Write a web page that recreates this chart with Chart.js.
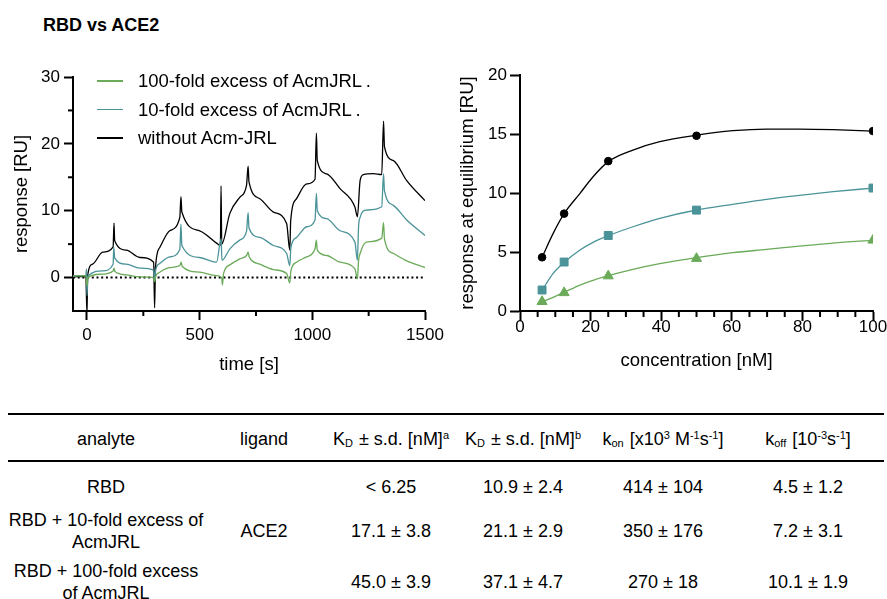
<!DOCTYPE html>
<html>
<head>
<meta charset="utf-8">
<script src="https://cdn.jsdelivr.net/npm/chart.js@4.4.1/dist/chart.umd.min.js"></script>
<style>
body { margin:0; width:887px; height:599px; overflow:hidden; background:#fff; position:relative; font-family:"Liberation Sans", Arial, sans-serif; color:#000; }
#title { position:absolute; left:43px; top:15px; font-weight:bold; font-size:18px; line-height:20px; white-space:nowrap; }
#leftBox { position:absolute; left:0; top:60px; }
#rightBox { position:absolute; left:452px; top:60px; }
.legRow { position:absolute; left:138px; font-size:18.5px; line-height:22px; white-space:nowrap; }
.legLine { position:absolute; left:97px; width:26px; height:1.6px; }
.rule { position:absolute; left:8px; width:876px; height:2px; background:#000; }
.row { position:absolute; left:8px; width:876px; display:flex; align-items:center; font-size:18px; line-height:22.5px; }
.cell { text-align:center; flex:none; }
.sb { font-size:11px; vertical-align:-2px; line-height:0; margin-right:1px; }
.sp { font-size:11px; vertical-align:6px; line-height:0; }
</style>
</head>
<body>
<div id="title">RBD vs ACE2</div>
<div id="leftBox"><canvas id="sensorgram" width="452" height="320"></canvas></div>
<div id="rightBox"><canvas id="equilibrium" width="443" height="320"></canvas></div>
<div id="legend"></div>
<div class="rule" style="top:413px"></div>
<div class="rule" style="top:460px"></div>
<div id="table"></div>

<script>
// ---------- sensorgram (left) ----------
const seriesLabels = ['100-fold excess of AcmJRL\u2009.', '10-fold excess of AcmJRL\u2009.', 'without Acm-JRL'];
const seriesColors = ['#6aaa58', '#4a9398', '#000000'];

const timeMajor = [0, 500, 1000, 1500];
const timeMinor = [250, 750, 1250];
const respMajor = [0, 10, 20, 30];
const respMinor = [5, 15, 25];

const blackTime = [-62, -5, 0, 3, 25, 70, 116, 120, 123, 175, 235, 296, 300, 304, 323, 367, 412, 417, 421, 500, 575, 592, 595, 598, 634, 678, 708, 715, 719, 767, 827, 886, 900, 904, 930, 975, 1012, 1018, 1022, 1064, 1123, 1189, 1200, 1212, 1227, 1271, 1308, 1316, 1320, 1360, 1419, 1500];
const blackResp = [0.1, 0.2, -5.5, 0.3, 2.0, 3.8, 4.6, 8.15, 5.5, 4.1, 3.0, 2.3, -4.5, 1.5, 4.5, 7.0, 9.0, 12.1, 9.8, 7.0, 5.15, 4.8, 13.7, 5.0, 9.6, 12.0, 13.8, 16.65, 14.3, 11.8, 9.8, 8.1, 4.1, 8.5, 11.8, 14.0, 14.7, 21.6, 17.5, 15.5, 13.3, 10.55, 9.1, 14.5, 15.4, 15.55, 15.4, 23.4, 19.6, 17.5, 14.5, 11.5];

const tealTime = [-62, -5, -2, 0, 4, 70, 116, 119, 123, 175, 235, 296, 300, 305, 323, 367, 412, 417, 421, 500, 575, 595, 599, 634, 678, 708, 715, 719, 767, 827, 886, 900, 905, 930, 975, 1012, 1018, 1022, 1064, 1123, 1189, 1200, 1205, 1212, 1240, 1308, 1316, 1320, 1360, 1419, 1500];
const tealResp = [0.3, 0.3, 1.3, -2.7, 0.2, 1.0, 2.0, 4.5, 2.9, 2.0, 1.4, 1.1, -0.5, 1.2, 2.1, 3.1, 4.2, 8.0, 4.8, 3.0, 2.3, 5.8, 2.6, 4.3, 5.6, 6.9, 9.7, 7.4, 6.0, 4.8, 3.6, 1.8, 4.5, 6.0, 7.6, 8.6, 12.6, 10.0, 8.8, 7.0, 5.3, 2.6, 7.5, 9.0, 10.1, 10.6, 15.5, 13.0, 10.8, 8.6, 6.3];

const greenTime = [-62, -5, 0, 5, 60, 116, 120, 124, 175, 235, 296, 300, 305, 323, 367, 412, 418, 422, 500, 575, 598, 601, 606, 634, 678, 708, 715, 720, 767, 827, 886, 900, 905, 930, 975, 1012, 1018, 1022, 1064, 1123, 1189, 1200, 1205, 1212, 1240, 1308, 1316, 1320, 1360, 1419, 1500];
const greenResp = [0.2, 0.3, -1.2, 0.0, 0.5, 1.0, 1.4, 0.9, 0.4, 0.1, 0.0, -0.6, 0.2, 0.8, 1.5, 1.8, 2.3, 1.7, 0.8, 0.3, 0.0, -1.1, 0.6, 1.9, 2.8, 3.3, 3.8, 3.1, 2.0, 1.2, 0.6, -0.8, 1.0, 2.3, 3.1, 4.3, 5.6, 4.1, 3.3, 2.3, 1.3, -0.2, 2.5, 3.6, 5.3, 5.9, 8.2, 5.8, 3.6, 2.5, 1.5];

const zeroTime = [-62, 1500];
const zeroResp = [0, 0];

// ---------- equilibrium (right) ----------
const concMajor = [0, 20, 40, 60, 80, 100];
const concMinor = [5, 10, 15, 25, 30, 35, 45, 50, 55, 65, 70, 75, 85, 90, 95];
const eqTicks = [0, 5, 10, 15, 20];

const concPoints = [6.25, 12.5, 25, 50, 100];
const eqBlack = [4.55, 8.25, 12.7, 14.85, 15.25];
const eqTeal = [1.78, 4.15, 6.4, 8.55, 10.42];
const eqGreen = [0.8, 1.55, 2.97, 4.45, 6.0];

const fitConc = [6.25, 9.4, 12.5, 17, 20.7, 25, 32, 39.6, 50, 60.3, 69.8, 79.2, 88.7, 100];
const fitBlack = [4.55, 6.58, 8.25, 9.97, 11.38, 12.66, 13.64, 14.35, 14.9, 15.28, 15.42, 15.42, 15.37, 15.25];
const fitTeal = [1.75, 3.19, 4.12, 5.17, 5.82, 6.38, 7.14, 7.85, 8.56, 9.04, 9.46, 9.8, 10.11, 10.42];
const fitGreen = [0.76, 1.16, 1.58, 2.2, 2.6, 2.99, 3.53, 4.01, 4.52, 4.94, 5.22, 5.5, 5.76, 5.99];

// ---------- table ----------
const tableWidths = [196, 120, 134, 130, 150, 146];
const tableHeader = ['analyte', 'ligand',
    'K<span class="sb">D</span> ± s.d. [nM]<span class="sp">a</span>',
    'K<span class="sb">D</span> ± s.d. [nM]<span class="sp">b</span>',
    'k<span class="sb">on</span> [x10<span class="sp">3</span> M<span class="sp">-1</span>s<span class="sp">-1</span>]',
    'k<span class="sb">off</span> [10<span class="sp">-3</span>s<span class="sp">-1</span>]'];
const tableAnalytes = ['RBD', 'RBD + 10-fold excess of<br>AcmJRL', 'RBD + 100-fold excess<br>of AcmJRL'];
const tableLigands = ['', 'ACE2', ''];
const kdA = ['&lt; 6.25', '17.1 ± 3.8', '45.0 ± 3.9'];
const kdB = ['10.9 ± 2.4', '21.1 ± 2.9', '37.1 ± 4.7'];
const kOn = ['414 ± 104', '350 ± 176', '270 ± 18'];
const kOff = ['4.5 ± 1.2', '7.2 ± 3.1', '10.1 ± 1.9'];


Chart.defaults.font.family = '"Liberation Sans", Arial, sans-serif';
Chart.defaults.color = '#000';
Chart.defaults.animation = false;

function pairs(xs, ys) {
    return xs.map((x, i) => ({ x: x, y: ys[i] }));
}

// short ticks between the labelled ones
const minorTicks = {
    id: 'minorTicks',
    afterDraw(chart, args, opts) {
        const ctx = chart.ctx;
        const area = chart.chartArea;
        ctx.save();
        ctx.strokeStyle = '#000';
        ctx.lineWidth = 2;
        (opts.x || []).forEach(v => {
            const px = chart.scales.x.getPixelForValue(v);
            ctx.beginPath();
            ctx.moveTo(px, area.bottom);
            ctx.lineTo(px, area.bottom + opts.length);
            ctx.stroke();
        });
        (opts.y || []).forEach(v => {
            const py = chart.scales.y.getPixelForValue(v);
            ctx.beginPath();
            ctx.moveTo(area.left, py);
            ctx.lineTo(area.left - opts.length, py);
            ctx.stroke();
        });
        ctx.restore();
    }
};

function axis(min, max, ticks, tickLen, pad, fit, title, titlePad) {
    return {
        type: 'linear',
        min: min,
        max: max,
        afterBuildTicks: s => { s.ticks = ticks.map(v => ({ value: v })); },
        afterFit: fit,
        grid: { drawOnChartArea: false, tickLength: tickLen, tickWidth: 2, tickColor: '#000' },
        border: { color: '#000', width: 2 },
        ticks: { font: { size: 17 }, padding: pad, maxRotation: 0, autoSkip: false, callback: v => String(v) },
        title: { display: true, text: title, font: { size: 18.5 }, padding: titlePad }
    };
}

new Chart(document.getElementById('sensorgram'), {
    type: 'line',
    data: {
        datasets: [
            { label: seriesLabels[0], data: pairs(greenTime, greenResp), borderColor: seriesColors[0], borderWidth: 1.3, pointRadius: 0, cubicInterpolationMode: 'monotone' },
            { label: seriesLabels[1], data: pairs(tealTime, tealResp), borderColor: seriesColors[1], borderWidth: 1.3, pointRadius: 0, cubicInterpolationMode: 'monotone' },
            { label: seriesLabels[2], data: pairs(blackTime, blackResp), borderColor: seriesColors[2], borderWidth: 1.3, pointRadius: 0, cubicInterpolationMode: 'monotone' },
            { label: 'baseline', data: pairs(zeroTime, zeroResp), borderColor: '#000', borderWidth: 2, borderDash: [2, 2.7], pointRadius: 0 }
        ]
    },
    options: {
        responsive: false,
        layout: { padding: { top: 17, right: 27, bottom: 0, left: 0 } },
        plugins: {
            legend: { display: false },
            tooltip: { enabled: false },
            minorTicks: { x: timeMinor, y: respMinor, length: 5 }
        },
        scales: {
            x: axis(-62, 1500, timeMajor, 9, 5, s => { s.height = 69; }, 'time [s]', { top: 0, bottom: 4 }),
            y: axis(-5, 30, respMajor, 9, 4, s => { s.width = 73; }, 'response [RU]', { top: 11, bottom: 0 })
        }
    },
    plugins: [minorTicks]
});

new Chart(document.getElementById('equilibrium'), {
    type: 'scatter',
    data: {
        datasets: [
            { data: pairs(concPoints, eqBlack), backgroundColor: seriesColors[2], borderColor: seriesColors[2], pointStyle: 'circle', pointRadius: 3.8 },
            { data: pairs(concPoints, eqTeal), backgroundColor: seriesColors[1], borderColor: seriesColors[1], pointStyle: 'rect', pointRadius: 5.6, borderWidth: 1 },
            { data: pairs(concPoints, eqGreen), backgroundColor: seriesColors[0], borderColor: seriesColors[0], pointStyle: 'triangle', pointRadius: 5.8, borderWidth: 1 },
            { data: pairs(fitConc, fitBlack), showLine: true, borderColor: seriesColors[2], borderWidth: 1.3, pointRadius: 0, cubicInterpolationMode: 'monotone' },
            { data: pairs(fitConc, fitTeal), showLine: true, borderColor: seriesColors[1], borderWidth: 1.3, pointRadius: 0, cubicInterpolationMode: 'monotone' },
            { data: pairs(fitConc, fitGreen), showLine: true, borderColor: seriesColors[0], borderWidth: 1.3, pointRadius: 0, cubicInterpolationMode: 'monotone' }
        ]
    },
    options: {
        responsive: false,
        layout: { padding: { top: 15, right: 22, bottom: 0, left: 0 } },
        plugins: {
            legend: { display: false },
            tooltip: { enabled: false },
            minorTicks: { x: concMinor, y: [], length: 6 }
        },
        scales: {
            x: axis(0, 100, concMajor, 10, -4, s => { s.height = 69; }, 'concentration [nM]', { top: 0, bottom: 8 }),
            y: axis(0, 20, eqTicks, 10, 3, s => { s.width = 68; }, 'response at equilibrium [RU]', { top: 5, bottom: 0 })
        }
    },
    plugins: [minorTicks]
});

// legend
let legendHtml = '';
const legendTops = [70, 98.6, 127.2];
for (let i = 0; i < seriesLabels.length; i++) {
    legendHtml += `<div class="legLine" style="top:${legendTops[i] + 10}px;background:${seriesColors[i]}"></div>`;
    legendHtml += `<div class="legRow" style="top:${legendTops[i]}px">${seriesLabels[i]}</div>`;
}
document.getElementById('legend').innerHTML = legendHtml;

// table
function tableRow(cells, top, height, extra) {
    let html = `<div class="row" style="top:${top}px;height:${height}px;${extra || ''}">`;
    for (let i = 0; i < cells.length; i++) {
        let pad = i == cells.length - 1 ? 'padding-right:6px;box-sizing:border-box;' : '';
        html += `<div class="cell" style="width:${tableWidths[i]}px;${pad}">${cells[i]}</div>`;
    }
    return html + '</div>';
}
const rowTops = [462, 513, 549];
const rowHeights = [51, 36, 66];
let tableHtml = tableRow(tableHeader, 415, 45, 'padding-top:3px;box-sizing:border-box;');
for (let r = 0; r < tableAnalytes.length; r++) {
    tableHtml += tableRow([tableAnalytes[r], tableLigands[r], kdA[r], kdB[r], kOn[r], kOff[r]], rowTops[r], rowHeights[r]);
}
document.getElementById('table').innerHTML = tableHtml;
</script>
</body>
</html>
